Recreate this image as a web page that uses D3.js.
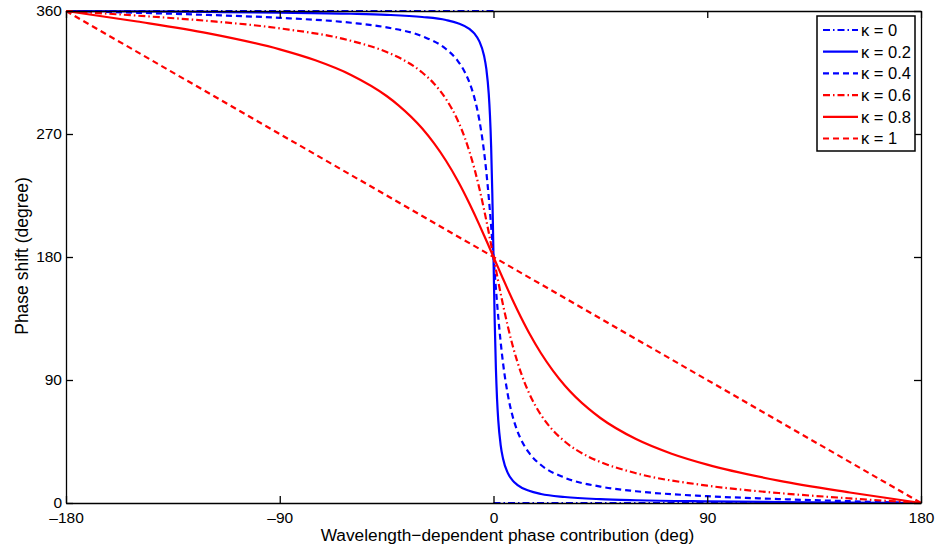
<!DOCTYPE html>
<html>
<head>
<meta charset="utf-8">
<script src="https://cdn.jsdelivr.net/npm/d3@7"></script>
<style>
  body { margin: 0; background: #fff; }
  svg { display: block; font-family: "Liberation Sans", Arial, Helvetica, sans-serif; }
</style>
</head>
<body>
<script>
/*
 * Phase shift vs wavelength-dependent phase contribution,
 * one curve per coupling coefficient kappa.
 */

const CANVAS_WIDTH = 938;
const CANVAS_HEIGHT = 555;
const PLOT_LEFT = 66;
const PLOT_RIGHT = 921;
const PLOT_TOP = 11;
const PLOT_BOT = 503;
const TICK_LEN = 7;
const LINE_WIDTH = 2.2;

const COLOR_BLUE = '#0000ff';
const COLOR_RED = '#ff0000';

// tick labels
const X_TICKS = [-180, -90, 0, 90, 180];
const Y_TICKS = [0, 90, 180, 270, 360];

// legend labels
const KAPPA_LABELS = ['\u03ba = 0', '\u03ba = 0.2', '\u03ba = 0.4', '\u03ba = 0.6', '\u03ba = 0.8', '\u03ba = 1'];

// kappa = 0 (step, the jump at 0 is not drawn)
const K0_X = [-180, 0, 0, 0, 180];
const K0_Y = [360, 360, null, 0, 0];

// kappa = 0.2
const K02_X = [-180, -150, -120, -90, -60, -45, -30, -20, -15, -10, -8, -6, -4, -3, -2, -1.5, -1, -0.5, -0.25, 0,
  0.25, 0.5, 1, 1.5, 2, 3, 4, 6, 8, 10, 15, 20, 30, 45, 60, 90, 120, 150, 180];
const K02_Y = [360, 359.7, 359.3, 358.8, 358.0, 357.2, 355.6, 353.4, 351.1, 346.7, 343.4, 338.0, 327.4, 317.4, 299.4, 284.1, 261.1, 226.3, 204.1, 180,
  155.9, 133.7, 98.9, 75.9, 60.6, 42.6, 32.6, 22.0, 16.6, 13.3, 8.9, 6.6, 4.4, 2.8, 2.0, 1.2, 0.7, 0.3, 0];

// kappa = 0.4
const K04_X = [-180, -150, -120, -90, -60, -45, -30, -20, -15, -12, -10, -8, -6, -4, -3, -2, -1, -0.5, 0,
  0.5, 1, 2, 3, 4, 6, 8, 10, 12, 15, 20, 30, 45, 60, 90, 120, 150, 180];
const K04_Y = [360, 358.7, 357.1, 355.0, 351.4, 348.0, 341.5, 332.2, 323.4, 315.0, 307.1, 296.2, 280.5, 257.4, 242.0, 223.7, 202.7, 191.4, 180,
  168.6, 157.3, 136.3, 118.0, 102.6, 79.5, 63.8, 52.9, 45.0, 36.6, 27.8, 18.5, 12.0, 8.6, 5.0, 2.9, 1.3, 0];

// kappa = 0.6
const K06_X = [-180, -150, -120, -90, -60, -45, -40, -30, -25, -20, -15, -12, -10, -8, -6, -4, -2, -1, 0,
  1, 2, 4, 6, 8, 10, 12, 15, 20, 25, 30, 40, 45, 60, 90, 120, 150, 180];
const K06_Y = [360, 356.6, 352.7, 347.3, 338.2, 330.0, 326.1, 315.0, 306.8, 295.6, 279.7, 266.8, 256.4, 244.4, 230.5, 214.9, 197.9, 189.0, 180,
  171.0, 162.1, 145.1, 129.5, 115.6, 103.6, 93.2, 80.3, 64.4, 53.2, 45.0, 33.9, 30.0, 21.8, 12.7, 7.3, 3.4, 0];

// kappa = 0.8
const K08_X = [-180, -150, -120, -90, -75, -60, -45, -40, -30, -25, -20, -15, -10, -8, -6, -4, -2, 0,
  2, 4, 6, 8, 10, 15, 20, 25, 30, 40, 45, 60, 75, 90, 120, 150, 180];
const K08_Y = [360, 352.3, 343.6, 331.9, 323.9, 313.2, 297.8, 291.0, 274.0, 263.1, 250.4, 235.6, 218.6, 211.3, 203.7, 195.9, 188.0, 180,
  172.0, 164.1, 156.3, 148.7, 141.4, 124.4, 109.6, 96.9, 86.0, 69.0, 62.2, 46.8, 36.1, 28.1, 16.4, 7.7, 0];

// kappa = 1
const K1_X = [-180, 180];
const K1_Y = [360, 0];

const SERIES = [
  { xs: K0_X, ys: K0_Y, color: COLOR_BLUE, dash: '7,3,1.5,3', smooth: false },
  { xs: K02_X, ys: K02_Y, color: COLOR_BLUE, dash: null, smooth: true },
  { xs: K04_X, ys: K04_Y, color: COLOR_BLUE, dash: '6,4', smooth: true },
  { xs: K06_X, ys: K06_Y, color: COLOR_RED, dash: '7,3,1.5,3', smooth: true },
  { xs: K08_X, ys: K08_Y, color: COLOR_RED, dash: null, smooth: true },
  { xs: K1_X, ys: K1_Y, color: COLOR_RED, dash: '6,4', smooth: false }
];

const fmt = d => (d < 0 ? '\u2013' + Math.abs(d) : String(d));

const svg = d3.select('body')
  .append('svg')
    .attr('width', CANVAS_WIDTH)
    .attr('height', CANVAS_HEIGHT);

const xScale = d3.scaleLinear()
    .domain([-180, 180])
    .range([PLOT_LEFT, PLOT_RIGHT]);

const yScale = d3.scaleLinear()
    .domain([0, 360])
    .range([PLOT_BOT, PLOT_TOP]);

/*
 * Curves.
 */

SERIES.forEach(s => {
  const pts = s.xs.map((x, i) => [x, s.ys[i]]);
  const line = d3.line()
      .defined(d => d[1] !== null)
      .x(d => xScale(d[0]))
      .y(d => yScale(d[1]))
      .curve(s.smooth ? d3.curveMonotoneX : d3.curveLinear);
  svg.append('path')
      .datum(pts)
      .attr('d', line)
      .attr('fill', 'none')
      .attr('stroke', s.color)
      .attr('stroke-width', LINE_WIDTH)
      .attr('stroke-dasharray', s.dash);
});

/*
 * Axes box with inward ticks (matlab style).
 */

const styleAxis = g => {
  g.attr('font-family', null).attr('font-size', 15.5);
  g.selectAll('path, line').attr('stroke', '#000').attr('stroke-width', 1.3);
  g.selectAll('text').attr('fill', '#000');
};

svg.append('g')
    .attr('transform', `translate(0, ${PLOT_BOT})`)
    .call(d3.axisBottom(xScale).tickValues(X_TICKS).tickFormat(fmt)
      .tickSizeInner(-TICK_LEN).tickSizeOuter(0).tickPadding(9))
    .call(styleAxis);

svg.append('g')
    .attr('transform', `translate(0, ${PLOT_TOP})`)
    .call(d3.axisTop(xScale).tickValues(X_TICKS).tickFormat('')
      .tickSizeInner(-TICK_LEN).tickSizeOuter(0))
    .call(styleAxis);

svg.append('g')
    .attr('transform', `translate(${PLOT_LEFT}, 0)`)
    .call(d3.axisLeft(yScale).tickValues(Y_TICKS).tickFormat(fmt)
      .tickSizeInner(-TICK_LEN).tickSizeOuter(0).tickPadding(4))
    .call(styleAxis);

svg.append('g')
    .attr('transform', `translate(${PLOT_RIGHT}, 0)`)
    .call(d3.axisRight(yScale).tickValues(Y_TICKS).tickFormat('')
      .tickSizeInner(-TICK_LEN).tickSizeOuter(0))
    .call(styleAxis);

// axis labels
svg.append('text')
    .attr('x', (PLOT_LEFT + PLOT_RIGHT) / 2 + 14)
    .attr('y', 541)
    .attr('text-anchor', 'middle')
    .attr('font-size', 17.3)
    .text('Wavelength\u2212dependent phase contribution (deg)');

svg.append('text')
    .attr('transform', `translate(28, 256) rotate(-90)`)
    .attr('text-anchor', 'middle')
    .attr('font-size', 17.5)
    .text('Phase shift (degree)');

/*
 * Legend.
 */

const LEG_X = 817;
const LEG_Y = 16;
const LEG_W = 98;
const LEG_H = 135;
const LEG_ROW = 21.7;

const legend = svg.append('g');

legend.append('rect')
    .attr('x', LEG_X)
    .attr('y', LEG_Y)
    .attr('width', LEG_W)
    .attr('height', LEG_H)
    .attr('fill', '#fff')
    .attr('stroke', '#000')
    .attr('stroke-width', 1.5);

SERIES.forEach((s, i) => {
  const cy = LEG_Y + 14 + i * LEG_ROW;
  legend.append('line')
      .attr('x1', LEG_X + 6)
      .attr('x2', LEG_X + 41)
      .attr('y1', cy)
      .attr('y2', cy)
      .attr('stroke', s.color)
      .attr('stroke-width', LINE_WIDTH)
      .attr('stroke-dasharray', s.dash);
  legend.append('text')
      .attr('x', LEG_X + 44)
      .attr('y', cy)
      .attr('dy', '0.36em')
      .attr('font-size', 16.5)
      .text(KAPPA_LABELS[i]);
});
</script>
</body>
</html>
